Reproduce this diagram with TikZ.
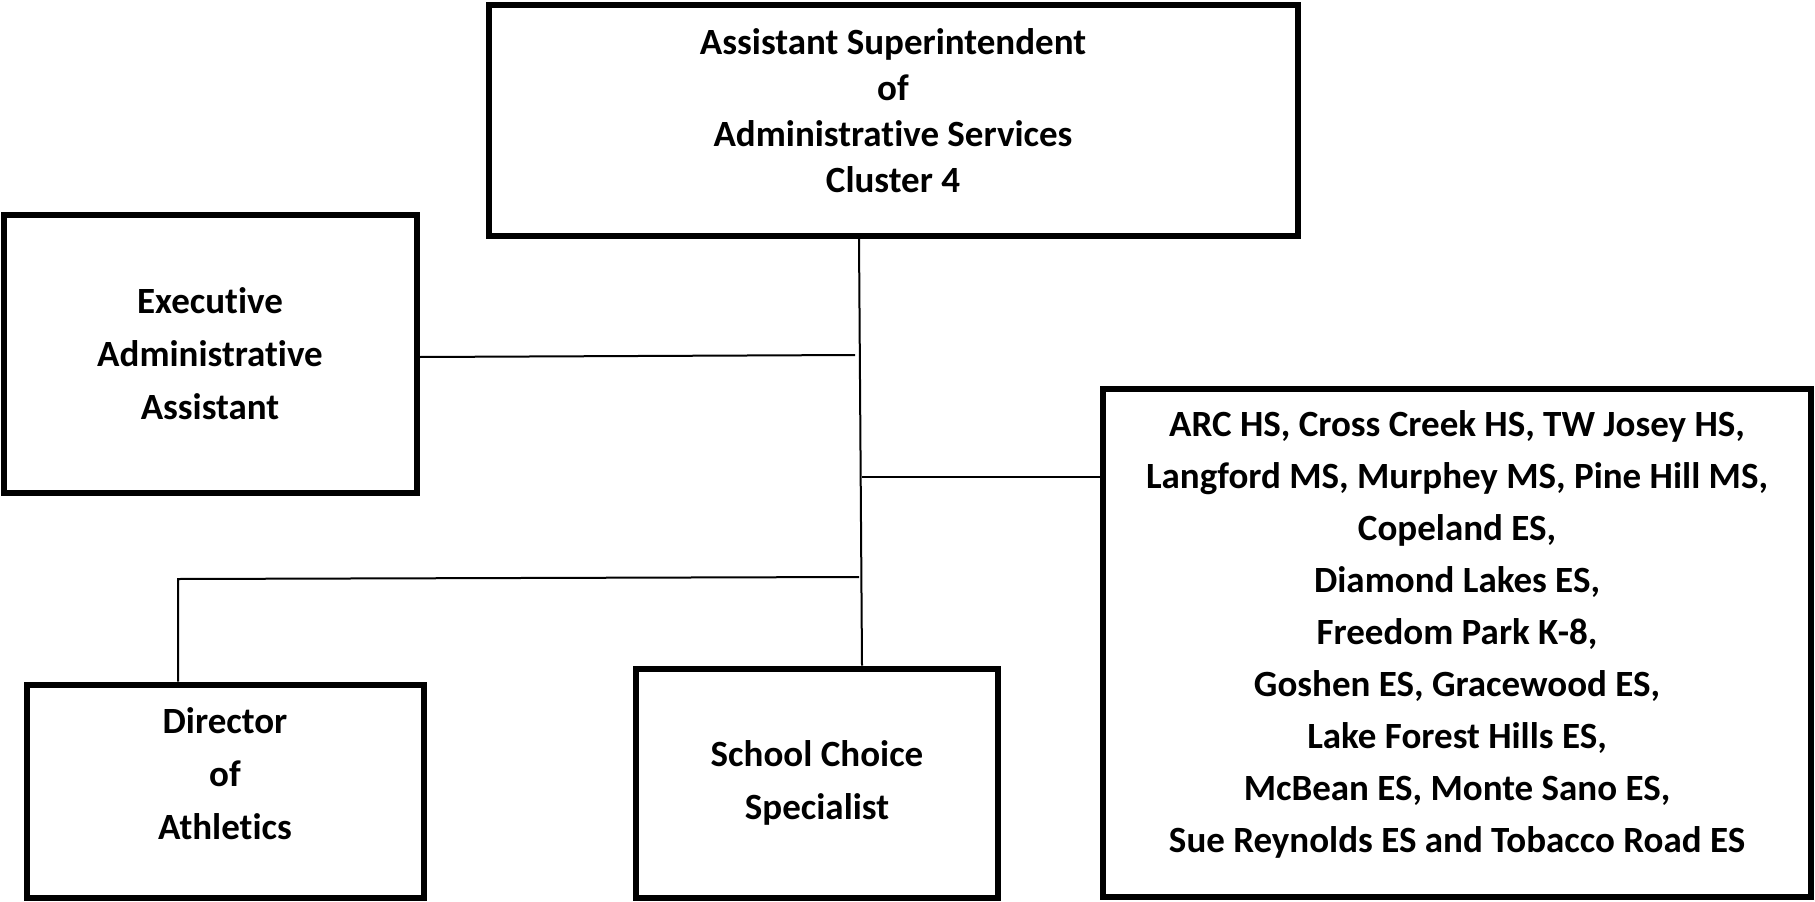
\documentclass[tikz,border=0pt]{standalone}
\usepackage{fontspec}
\setmainfont[RawFeature={-liga}]{Carlito}
\begin{document}
\begin{tikzpicture}[x=1pt,y=-1pt,
  box/.style={draw, line width=6pt, align=center, inner sep=0pt, font=\fontsize{37}{53}\selectfont\bfseries},
  conn/.style={line width=2pt}]
\useasboundingbox (0,0) rectangle (1815,902);
\node[box, minimum width=809pt, minimum height=231pt] (top) at (893,120) {};
\node[font=\fontsize{37}{46}\selectfont\bfseries, align=center] (toptext) at (893,111) {Assistant Superintendent\\of\\Administrative Services\\Cluster 4};
\node[box, minimum width=413pt, minimum height=278pt] (exec) at (210,354) {Executive\\Administrative\\Assistant};
\node[box, minimum width=397pt, minimum height=213pt] (dir) at (225,791) {};
\node[font=\fontsize{37}{53}\selectfont\bfseries, align=center] (dirtext) at (225,774) {Director\\of\\Athletics};
\node[box, minimum width=362pt, minimum height=229pt] (sc) at (817,783) {School Choice\\Specialist};
\node[box, minimum width=708pt, minimum height=508pt] (sch) at (1457,643) {};
\node[font=\fontsize{37}{52}\selectfont\bfseries, align=center] (schtext) at (1457,634) {ARC HS, Cross Creek HS, TW Josey HS,\\Langford MS, Murphey MS, Pine Hill MS,\\Copeland ES,\\Diamond Lakes ES,\\Freedom Park K-8,\\Goshen ES, Gracewood ES,\\Lake Forest Hills ES,\\McBean ES, Monte Sano ES,\\Sue Reynolds ES and Tobacco Road ES};
\coordinate (t0) at (859,0);
\coordinate (t1) at (862,0);
\coordinate (je) at (855,355);
\coordinate (js) at (862,477);
\coordinate (jd) at (859,577);
\coordinate (dc) at (178,579);
\draw[conn] (top.south -| t0) -- (sc.north -| t1);
\draw[conn] (exec.east |- 0,357) -- (je);
\draw[conn] (js) -- (sch.west |- js);
\draw[conn] (jd) -- (dc) -- (dir.north -| dc);
\end{tikzpicture}
\end{document}
